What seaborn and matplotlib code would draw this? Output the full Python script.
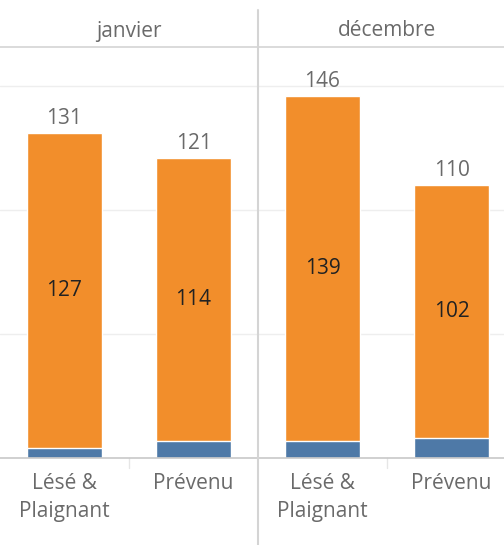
import pandas as pd
import seaborn as sns
import matplotlib.pyplot as plt

# data
months = ["janvier", "décembre"]
roles = ["Lésé &\nPlaignant", "Prévenu"]
orange_vals = [127, 114, 139, 102]   # main segment
blue_vals = [4, 7, 7, 8]             # bottom segment

df = pd.DataFrame({
    "month": [m for m in months for _ in roles],
    "role": roles * len(months),
    "orange": orange_vals,
    "blue": blue_vals,
})
df["total"] = df["orange"] + df["blue"]

sns.set_theme(style="white")
plt.rcParams["font.family"] = ["Open Sans", "DejaVu Sans"]

ORANGE = "#F28E2B"
BLUE = "#4E79A7"
GREY_TXT = "#6a6a6a"
LINE = "#d4d4d4"

fig = plt.figure(figsize=(5.04, 5.45), dpi=100)
W, H = 504, 545
top_px, base_px = 47, 458
panel_w = 258
ymax = (base_px - top_px) / 2.48

for i, m in enumerate(months):
    sub = df[df["month"] == m]
    ax = fig.add_axes([i * panel_w / W, (H - base_px) / H, panel_w / W, (base_px - top_px) / H])
    sns.barplot(data=sub, x="role", y="total", color=ORANGE, width=0.574,
                saturation=1, ax=ax, zorder=3)
    sns.barplot(data=sub, x="role", y="blue", color=BLUE, width=0.574,
                saturation=1, ax=ax, zorder=4)
    ax.set_xlim(-0.5, 1.5)
    ax.set_ylim(0, ymax)
    for y in [50, 100, 150]:
        ax.axhline(y, color="#eeeeee", lw=1, zorder=1)
    ax.axhline(0, color="#c8c8c8", lw=1.2, zorder=5, clip_on=False)
    for k, (_, r) in enumerate(sub.iterrows()):
        ax.annotate(str(r["total"]), (k, r["total"]), xytext=(0, 3),
                    textcoords="offset points", ha="center", va="bottom",
                    fontsize=15, color=GREY_TXT)
        ax.text(k, r["blue"] + r["orange"] / 2, str(r["orange"]), ha="center",
                va="center", fontsize=15, color="#222222", zorder=6)
    ax.set_xlabel("")
    ax.set_ylabel("")
    ax.set_yticks([])
    ax.tick_params(axis="x", length=0, pad=11, labelsize=15, labelcolor=GREY_TXT)
    for lbl in ax.get_xticklabels():
        lbl.set_linespacing(1.45)
    for s in ax.spines.values():
        s.set_visible(False)
    # small separator between categories
    ax.plot([0.5, 0.5], [0, -4], color="#e6e6e6", lw=1, clip_on=False)
    # header text
    fig.text((i * panel_w + panel_w / 2) / W, 1 - 31 / H, m, ha="center", va="center",
             fontsize=15, color=GREY_TXT)

# header line and panel divider
fig.add_artist(plt.Line2D([0, 1], [1 - top_px / H, 1 - top_px / H], color=LINE, lw=1.2))
fig.add_artist(plt.Line2D([panel_w / W, panel_w / W], [0, 1 - 10 / H], color=LINE, lw=1.5))

fig.savefig("out.png", dpi=100)
